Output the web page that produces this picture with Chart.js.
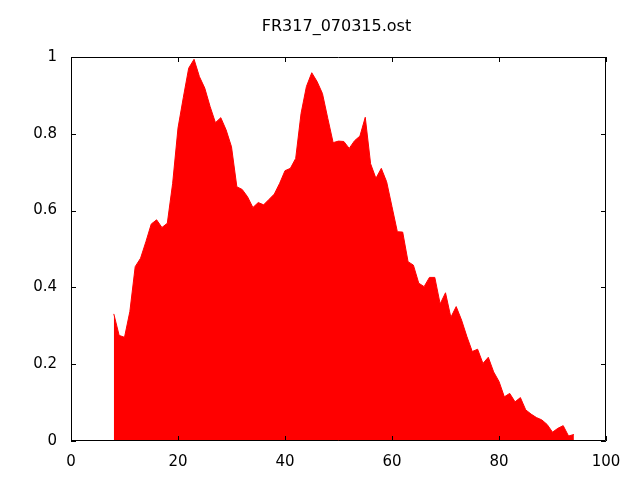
<!DOCTYPE html>
<html>
<head>
<meta charset="utf-8">
<script src="https://cdn.jsdelivr.net/npm/chart.js@4/dist/chart.umd.min.js"></script>
<style>
html,body{margin:0;padding:0;background:#fff;}
#wrap{width:640px;height:480px;}
</style>
</head>
<body>
<div id="wrap"><canvas id="c" width="640" height="480"></canvas></div>
<script>
const titleText = "FR317_070315.ost";
const xValues = [8,9,10,11,12,13,14,15,16,17,18,19,20,21,22,23,24,25,26,27,28,29,30,31,32,33,34,35,36,37,38,39,40,41,42,43,44,45,46,47,48,49,50,51,52,53,54,55,56,57,58,59,60,61,62,63,64,65,66,67,68,69,70,71,72,73,74,75,76,77,78,79,80,81,82,83,84,85,86,87,88,89,90,91,92,93,94];
const yValues = [0.331,0.275,0.270,0.337,0.454,0.476,0.519,0.565,0.576,0.556,0.567,0.671,0.815,0.895,0.971,0.994,0.949,0.919,0.871,0.829,0.842,0.810,0.766,0.662,0.655,0.636,0.608,0.621,0.615,0.629,0.643,0.671,0.704,0.710,0.736,0.853,0.923,0.959,0.936,0.905,0.840,0.777,0.781,0.780,0.762,0.782,0.794,0.843,0.722,0.684,0.710,0.675,0.610,0.545,0.544,0.467,0.458,0.411,0.402,0.426,0.426,0.357,0.386,0.322,0.350,0.315,0.272,0.233,0.239,0.202,0.218,0.180,0.155,0.115,0.124,0.102,0.113,0.081,0.070,0.061,0.055,0.043,0.023,0.033,0.040,0.013,0.017];
const xTickValues = [0,20,40,60,80,100];
const yTickValues = [0,0.2,0.4,0.6,0.8,1];

const points = xValues.map((x,i)=>({x:x,y:yValues[i]}));

const frame = {
  id:'frame',
  afterDraw(chart){
    const ctx = chart.ctx, a = chart.chartArea;
    const xs = chart.scales.x, ys = chart.scales.y;
    ctx.save();
    ctx.strokeStyle = '#000';
    ctx.lineWidth = 1;
    ctx.beginPath();
    ctx.rect(a.left+0.5, a.top+0.5, a.right-a.left-1, a.bottom-a.top-1);
    const L = 5;
    xTickValues.forEach(v=>{
      const p = Math.round(xs.getPixelForValue(v))+0.5;
      ctx.moveTo(p, a.bottom); ctx.lineTo(p, a.bottom-L);
      ctx.moveTo(p, a.top); ctx.lineTo(p, a.top+L);
    });
    yTickValues.forEach(v=>{
      const p = Math.round(ys.getPixelForValue(v))+0.5;
      ctx.moveTo(a.left, p); ctx.lineTo(a.left+L, p);
      ctx.moveTo(a.right, p); ctx.lineTo(a.right-L, p);
    });
    ctx.stroke();
    ctx.fillStyle = '#000';
    ctx.font = '16px "DejaVu Sans"';
    ctx.textAlign = 'center';
    ctx.textBaseline = 'middle';
    ctx.fillText(titleText, (a.left+a.right)/2 - 2, 27);
    ctx.restore();
  }
};

new Chart(document.getElementById('c'), {
  type:'line',
  data:{datasets:[{
    data:points,
    borderColor:'#ff0000',
    backgroundColor:'#ff0000',
    borderWidth:1,
    pointRadius:0,
    tension:0,
    fill:'origin'
  }]},
  options:{
    responsive:false,
    animation:false,
    devicePixelRatio:1,
    layout:{padding:{left:0,right:34,top:57,bottom:0}},
    plugins:{legend:{display:false},tooltip:{enabled:false},title:{display:false}},
    scales:{
      x:{
        type:'linear',min:0,max:100,
        afterFit(s){s.height=39;},
        afterBuildTicks(s){s.ticks = xTickValues.map(v=>({value:v}));},
        grid:{display:false,drawTicks:false},
        border:{display:false},
        ticks:{color:'#000',padding:12,maxRotation:0,autoSkip:false,font:{family:'DejaVu Sans',size:15},callback:v=>String(v)}
      },
      y:{
        type:'linear',min:0,max:1,
        afterFit(s){s.width=71;},
        afterBuildTicks(s){s.ticks = yTickValues.map(v=>({value:v}));},
        grid:{display:false,drawTicks:false},
        border:{display:false},
        ticks:{color:'#000',padding:14,autoSkip:false,font:{family:'DejaVu Sans',size:15},callback:v=>String(Math.round(v*10)/10)}
      }
    }
  },
  plugins:[frame]
});
</script>
</body>
</html>
